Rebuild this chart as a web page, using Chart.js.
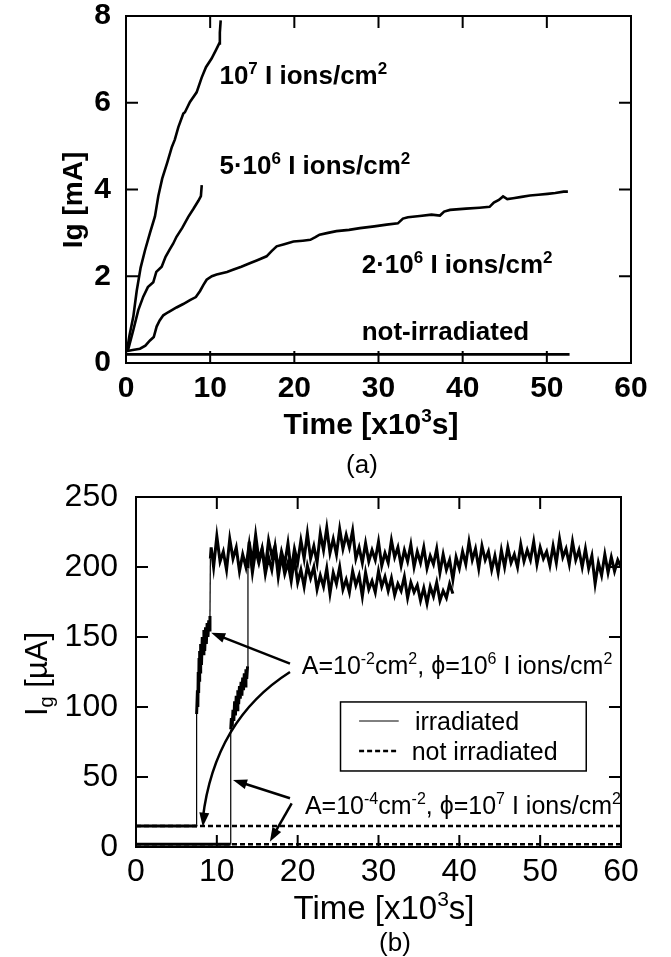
<!DOCTYPE html>
<html><head><meta charset="utf-8">
<script src="https://cdn.jsdelivr.net/npm/chart.js@4.4.0/dist/chart.umd.min.js"></script>
<style>
html,body{margin:0;padding:0;background:#fff;}
#wrap{position:relative;width:671px;height:957px;background:#fff;}
#ca{position:absolute;left:0;top:0;width:671px;height:480px;}
#cb{position:absolute;left:0;top:480px;width:671px;height:477px;}
</style></head><body>
<div id="wrap">
<canvas id="ca" width="671" height="480"></canvas>
<canvas id="cb" width="671" height="477"></canvas>
</div>
<script>
// ===================== DATA =====================
// ---- panel (a): gate current Ig [mA] vs time [x10^3 s] ----
const aTimeTicks = [0, 10, 20, 30, 40, 50, 60];
const aIgTicks = [0, 2, 4, 6, 8];

const a_t_1e7 = [0, 0.15, 0.4, 0.87, 1.27, 1.74, 2.26, 2.85, 3.44, 3.84, 4.3, 4.9, 5.45, 5.8, 6.22, 6.81, 7.0, 7.6, 8.39, 8.99, 9.5, 10.17, 10.7, 11.08, 11.15, 11.25];
const a_i_1e7 = [0.28, 0.32, 0.62, 1.07, 1.66, 2.2, 2.6, 3.0, 3.38, 3.85, 4.25, 4.62, 4.98, 5.15, 5.44, 5.75, 5.78, 6.02, 6.24, 6.58, 6.82, 7.02, 7.22, 7.37, 7.62, 7.9];

const a_t_5e6 = [0, 0.27, 0.87, 1.46, 2.05, 2.6, 3.24, 3.6, 4.24, 4.7, 5.2, 5.6, 6.0, 6.7, 7.4, 8.0, 8.6, 8.9, 9.0];
const a_i_5e6 = [0.28, 0.32, 0.76, 1.22, 1.53, 1.75, 1.86, 2.1, 2.22, 2.45, 2.62, 2.75, 2.91, 3.12, 3.37, 3.55, 3.74, 3.85, 4.1];

const a_t_2e6 = [0, 0.8, 1.66, 2.3, 2.85, 3.3, 3.64, 4.0, 4.43, 5.0, 6.0, 6.8, 7.6, 8.3, 8.8, 9.2, 9.58, 10.2, 10.77, 12.0, 12.7, 13.7, 14.7, 15.6, 16.7, 17.3, 17.9, 18.8, 19.9, 21.0, 21.9, 22.5, 23.0, 24.0, 25.0, 26.5, 27.8, 29.5, 30.96, 32.3, 32.9, 33.5, 34.9, 36.3, 37.3, 37.8, 38.5, 40.4, 42.0, 43.2, 43.7, 44.3, 44.8, 45.3, 46.0, 47.0, 48.0, 49.0, 50.1, 51.0, 52.0, 52.5];
const a_i_2e6 = [0.27, 0.3, 0.33, 0.4, 0.52, 0.6, 0.84, 0.98, 1.1, 1.17, 1.28, 1.36, 1.45, 1.52, 1.66, 1.8, 1.92, 2.0, 2.04, 2.1, 2.15, 2.22, 2.3, 2.37, 2.46, 2.58, 2.69, 2.74, 2.8, 2.82, 2.84, 2.9, 2.96, 3.0, 3.04, 3.07, 3.11, 3.15, 3.19, 3.22, 3.33, 3.36, 3.39, 3.42, 3.4, 3.49, 3.53, 3.56, 3.58, 3.6, 3.7, 3.76, 3.84, 3.78, 3.8, 3.83, 3.86, 3.88, 3.9, 3.92, 3.95, 3.95];

const a_t_notirr = [0, 52.7];
const a_i_notirr = [0.2, 0.2];

// ---- panel (b): gate current Ig [uA] vs time [x10^3 s] ----
const bTimeTicks = [0, 10, 20, 30, 40, 50, 60];
const bIgTicks = [0, 50, 100, 150, 200, 250];

// irradiated, jump near 7.4 (A=1e-2 cm2)
const b_t_irr1 = [0, 7.4, 7.45, 7.5, 7.6, 7.65, 7.7, 7.75, 7.8, 7.85, 7.9, 7.95, 8.0, 8.1, 8.2, 8.3, 8.4, 8.5, 8.6, 8.7, 8.8, 8.9, 9.0, 9.1, 9.15, 9.2,
  9.3, 9.6, 10.0, 10.4, 10.8, 11.2, 11.6, 12.0, 12.4, 12.8, 13.2, 13.6, 14.0, 14.4, 14.8, 15.2, 15.6, 16.0, 16.4, 16.8, 17.2, 17.6, 18.0, 18.4, 18.8, 19.2, 19.6,
  20.0, 20.4, 20.8, 21.2, 21.6, 22.0, 22.4, 22.8, 23.2, 23.6, 24.0, 24.4, 24.8, 25.2, 25.6, 26.0, 26.4, 26.8, 27.2, 27.6, 28.0, 28.4, 28.8, 29.2, 29.6,
  30.0, 30.4, 30.8, 31.2, 31.6, 32.0, 32.4, 32.8, 33.2, 33.6, 34.0, 34.4, 34.8, 35.2, 35.6, 36.0, 36.4, 36.8, 37.2, 37.6, 38.0, 38.4, 38.8, 39.2];
const b_i_irr1 = [15, 15, 16, 95, 112, 100, 125, 110, 135, 118, 140, 125, 145, 130, 150, 138, 155, 140, 157, 145, 160, 150, 162, 155, 165, 206,
  214, 200, 222, 204, 211, 198, 220, 206, 214, 197, 209, 200, 216, 196, 212, 203, 213, 195, 207, 198, 214, 193, 208, 195, 203, 190, 206,
  189, 198, 186, 201, 192, 200, 184, 194, 186, 199, 181, 196, 188, 200, 184, 191, 182, 197, 187, 194, 179, 196, 184, 190, 182,
  197, 186, 193, 183, 192, 180, 188, 183, 193, 178, 189, 182, 187, 176, 185, 174, 186, 179, 189, 176, 183, 178, 188, 181];

// irradiated, jump near 11.7 (A=1e-4 cm2)
const b_t_irr2 = [0, 11.7, 11.72, 11.8, 11.9, 12.0, 12.1, 12.2, 12.3, 12.4, 12.5, 12.6, 12.7, 12.8, 12.9, 13.0, 13.1, 13.2, 13.3, 13.4, 13.5, 13.6, 13.7, 13.8, 13.85,
  14.0, 14.4, 14.8, 15.2, 15.6, 16.0, 16.4, 16.8, 17.2, 17.6, 18.0, 18.4, 18.8, 19.2, 19.6, 20.0, 20.4, 20.8, 21.2, 21.6, 22.0, 22.4, 22.8, 23.2, 23.6,
  24.0, 24.4, 24.8, 25.2, 25.6, 26.0, 26.4, 26.8, 27.2, 27.6, 28.0, 28.4, 28.8, 29.2, 29.6, 30.0, 30.4, 30.8, 31.2, 31.6, 32.0, 32.4, 32.8, 33.2, 33.6,
  34.0, 34.4, 34.8, 35.2, 35.6, 36.0, 36.4, 36.8, 37.2, 37.6, 38.0, 38.4, 38.8, 39.2, 39.6, 40.0, 40.4, 40.8, 41.2, 41.6, 42.0, 42.4, 42.8, 43.2, 43.6,
  44.0, 44.4, 44.8, 45.2, 45.6, 46.0, 46.4, 46.8, 47.2, 47.6, 48.0, 48.4, 48.8, 49.2, 49.6, 50.0, 50.4, 50.8, 51.2, 51.6, 52.0, 52.4, 52.8, 53.2, 53.6,
  54.0, 54.4, 54.8, 55.2, 55.6, 56.0, 56.4, 56.8, 57.2, 57.6, 58.0, 58.4, 58.8, 59.2, 59.6, 60.0];
const b_i_irr2 = [2, 2, 84, 92, 86, 98, 90, 104, 94, 108, 98, 112, 102, 115, 106, 118, 108, 121, 112, 124, 115, 127, 120, 129, 199,
  218, 203, 223, 205, 213, 199, 219, 208, 215, 198, 211, 202, 217, 197, 213, 203, 219, 206, 224, 206, 215, 203, 224, 212, 228,
  210, 220, 209, 227, 213, 223, 214, 226, 206, 214, 203, 217, 204, 212, 205, 218, 201, 210, 203, 219, 207, 214, 201, 212, 204,
  216, 200, 211, 203, 214, 199, 208, 202, 213, 196, 209, 198, 205, 191, 207, 199, 211, 202, 218, 205, 213, 199, 215, 205, 211,
  198, 208, 196, 212, 200, 214, 203, 209, 200, 216, 204, 212, 205, 218, 202, 214, 206, 211, 201, 215, 203, 220, 207, 213, 202,
  218, 205, 212, 200, 213, 199, 208, 188, 203, 194, 209, 196, 207, 197, 205, 200];

// not irradiated reference levels
const b_t_notirr = [0, 60];
const b_i_notirr1 = [15, 15];
const b_i_notirr2 = [2, 2];

// ===================== HELPERS =====================
const FAM = "'Liberation Sans', Arial, Helvetica, sans-serif";
const xy = (t, v) => t.map((x, i) => ({ x: x, y: v[i] }));

function parseRich(s) {
  const segs = []; const re = /(\^|_)\{([^}]*)\}/g; let last = 0, m;
  while ((m = re.exec(s))) {
    if (m.index > last) segs.push({ t: s.slice(last, m.index), k: '' });
    segs.push({ t: m[2], k: m[1] === '^' ? 'sup' : 'sub' });
    last = re.lastIndex;
  }
  if (last < s.length) segs.push({ t: s.slice(last), k: '' });
  return segs;
}
function drawRich(ctx, s, x, y, size, weight, align) {
  const segs = parseRich(s);
  const fontOf = sg => `${weight} ${sg.k ? Math.round(size * 0.64) : size}px ${FAM}`;
  const widths = segs.map(sg => { ctx.font = fontOf(sg); return ctx.measureText(sg.t).width; });
  const total = widths.reduce((a, b) => a + b, 0);
  let cx = align === 'center' ? x - total / 2 : (align === 'right' ? x - total : x);
  ctx.textBaseline = 'alphabetic'; ctx.textAlign = 'left'; ctx.fillStyle = '#000';
  const base = y + size * 0.358;
  segs.forEach((sg, i) => {
    ctx.font = fontOf(sg);
    const dy = sg.k === 'sup' ? -size * 0.38 : (sg.k === 'sub' ? size * 0.2 : 0);
    ctx.fillText(sg.t, cx, base + dy);
    cx += widths[i];
  });
}
function drawRotated(ctx, s, x, y, size, weight) {
  ctx.save(); ctx.translate(x, y); ctx.rotate(-Math.PI / 2);
  drawRich(ctx, s, 0, 0, size, weight, 'center'); ctx.restore();
}
function frameAndTicks(chart, lw, len) {
  const { ctx, chartArea: a, scales } = chart;
  const x = scales.x, y = scales.y;
  ctx.save(); ctx.strokeStyle = '#000'; ctx.lineWidth = lw; ctx.setLineDash([]);
  ctx.strokeRect(a.left, a.top, a.right - a.left, a.bottom - a.top);
  ctx.beginPath();
  x.ticks.forEach(t => { const p = x.getPixelForValue(t.value); if (p <= a.left + 2 || p >= a.right - 2) return;
    ctx.moveTo(p, a.bottom); ctx.lineTo(p, a.bottom - len); ctx.moveTo(p, a.top); ctx.lineTo(p, a.top + len); });
  y.ticks.forEach(t => { const p = y.getPixelForValue(t.value); if (p <= a.top + 2 || p >= a.bottom - 2) return;
    ctx.moveTo(a.left, p); ctx.lineTo(a.left + len, p); ctx.moveTo(a.right, p); ctx.lineTo(a.right - len, p); });
  ctx.stroke(); ctx.restore();
}
function arrowHead(ctx, fx, fy, tx, ty, L, W) {
  const ang = Math.atan2(ty - fy, tx - fx);
  ctx.beginPath(); ctx.moveTo(tx, ty);
  ctx.lineTo(tx - L * Math.cos(ang) + W * Math.sin(ang), ty - L * Math.sin(ang) - W * Math.cos(ang));
  ctx.lineTo(tx - L * Math.cos(ang) - W * Math.sin(ang), ty - L * Math.sin(ang) + W * Math.cos(ang));
  ctx.closePath(); ctx.fill();
}
function xScale(ticksArr, font, pad, h) {
  return { type: 'linear', min: ticksArr[0], max: ticksArr[ticksArr.length - 1],
    afterBuildTicks: s => { s.ticks = ticksArr.map(v => ({ value: v })); },
    grid: { display: false, drawTicks: false }, border: { display: false },
    ticks: { color: '#000', font: font, padding: pad, maxRotation: 0, autoSkip: false },
    afterFit: s => { s.height = h; s.paddingLeft = 0; s.paddingRight = 0; } };
}
function yScale(ticksArr, font, pad, w) {
  return { type: 'linear', min: ticksArr[0], max: ticksArr[ticksArr.length - 1],
    afterBuildTicks: s => { s.ticks = ticksArr.map(v => ({ value: v })); },
    grid: { display: false, drawTicks: false }, border: { display: false },
    ticks: { color: '#000', font: font, padding: pad, autoSkip: false },
    afterFit: s => { s.width = w; s.paddingTop = 0; s.paddingBottom = 0; } };
}
const lineDs = (t, v, w, dash) => ({ data: xy(t, v), borderColor: '#000', borderWidth: w, pointRadius: 0,
  fill: false, tension: 0, borderDash: dash || [], borderJoinStyle: 'miter', borderCapStyle: 'butt' });
// thin strokes for the abrupt vertical jumps of the irradiated traces
const jumpThin = { borderWidth: c => {
  const dx = Math.abs(c.p1.parsed.x - c.p0.parsed.x), dy = Math.abs(c.p1.parsed.y - c.p0.parsed.y);
  return (dx < 0.1 && dy > 35) ? 1.2 : undefined; } };

// ===================== PANEL (a) =====================
const annoA = {
  id: 'annoA',
  afterDraw(chart) {
    const { ctx, scales: { x, y } } = chart;
    frameAndTicks(chart, 2, 12);
    const labels = [
      ['10^{7} I ions/cm^{2}', 11.1, 6.65],
      ['5·10^{6} I ions/cm^{2}', 11.1, 4.57],
      ['2·10^{6} I ions/cm^{2}', 28.0, 2.3],
      ['not-irradiated', 28.0, 0.74]
    ];
    labels.forEach(l => drawRich(ctx, l[0], x.getPixelForValue(l[1]), y.getPixelForValue(l[2]), 26, 'bold', 'left'));
    drawRich(ctx, 'Time [x10^{3}s]', 371, 423, 30, 'bold', 'center');
    drawRich(ctx, '(a)', 362, 464, 26, 'normal', 'center');
    drawRotated(ctx, 'Ig [mA]', 72, 200, 28, 'bold');
  }
};
new Chart(document.getElementById('ca'), {
  type: 'line',
  data: { datasets: [
    lineDs(a_t_1e7, a_i_1e7, 2.6),
    lineDs(a_t_5e6, a_i_5e6, 2.6),
    lineDs(a_t_2e6, a_i_2e6, 2.6),
    lineDs(a_t_notirr, a_i_notirr, 2.6)
  ] },
  options: {
    responsive: false, animation: false, events: [],
    layout: { padding: { left: 0, right: 40, top: 16, bottom: 0 } },
    plugins: { legend: { display: false }, tooltip: { enabled: false } },
    scales: {
      x: xScale(aTimeTicks, { family: FAM, size: 30, weight: 'bold', lineHeight: 1 }, 11, 117),
      y: yScale(aIgTicks, { family: FAM, size: 30, weight: 'bold', lineHeight: 1 }, 15, 126)
    }
  },
  plugins: [annoA]
});

// ===================== PANEL (b) =====================
const annoB = {
  id: 'annoB',
  afterDraw(chart) {
    const { ctx, scales: { x, y } } = chart;
    frameAndTicks(chart, 2, 12);
    const X = v => x.getPixelForValue(v), Y = v => y.getPixelForValue(v);
    drawRich(ctx, 'A=10^{-2}cm^{2}, ϕ=10^{6} I ions/cm^{2}', X(20.5), Y(130), 25, 'normal', 'left');
    drawRich(ctx, 'A=10^{-4}cm^{-2}, ϕ=10^{7} I ions/cm^{2}', X(20.9), Y(30), 25, 'normal', 'left');
    ctx.save(); ctx.strokeStyle = '#000'; ctx.fillStyle = '#000'; ctx.lineWidth = 2.5;
    const straight = [[19.05, 131, 9.3, 153], [19.05, 34.8, 12.0, 47.9], [19.26, 31.2, 16.56, 3.8]];
    straight.forEach(s => {
      const fx = X(s[0]), fy = Y(s[1]), tx = X(s[2]), ty = Y(s[3]);
      const ang = Math.atan2(ty - fy, tx - fx);
      ctx.beginPath(); ctx.moveTo(fx, fy); ctx.lineTo(tx - 10 * Math.cos(ang), ty - 10 * Math.sin(ang)); ctx.stroke();
      arrowHead(ctx, fx, fy, tx, ty, 14, 5);
    });
    const p0 = [X(19.05), Y(125)], p1 = [X(9.71), Y(90.7)], p2 = [X(8.26), Y(14.5)];
    ctx.beginPath(); ctx.moveTo(p0[0], p0[1]); ctx.quadraticCurveTo(p1[0], p1[1], p2[0], p2[1] - 8); ctx.stroke();
    arrowHead(ctx, p1[0], p1[1], p2[0], p2[1], 14, 5);
    ctx.restore();
    ctx.save(); ctx.strokeStyle = '#000'; ctx.lineWidth = 1.5;
    const lx0 = X(25.3), lx1 = X(55.7), ly0 = Y(103.6), ly1 = Y(54.3);
    ctx.strokeRect(lx0, ly0, lx1 - lx0, ly1 - ly0);
    ctx.lineWidth = 1; ctx.beginPath(); ctx.moveTo(X(27.6), Y(90)); ctx.lineTo(X(32.5), Y(90)); ctx.stroke();
    ctx.lineWidth = 2.5; ctx.setLineDash([5, 3]); ctx.beginPath(); ctx.moveTo(X(27.6), Y(68.6)); ctx.lineTo(X(32.5), Y(68.6)); ctx.stroke();
    ctx.restore();
    drawRich(ctx, 'irradiated', X(34.5), Y(90), 25, 'normal', 'left');
    drawRich(ctx, 'not irradiated', X(34.1), Y(68.6), 25, 'normal', 'left');
    drawRich(ctx, 'Time [x10^{3}s]', 384, 427, 33, 'normal', 'center');
    drawRich(ctx, '(b)', 395, 462, 26, 'normal', 'center');
    drawRotated(ctx, 'I_{g} [µA]', 36, 194, 31, 'normal');
  }
};
new Chart(document.getElementById('cb'), {
  type: 'line',
  data: { datasets: [
    lineDs(b_t_notirr, b_i_notirr1, 2.5, [5, 3]),
    lineDs(b_t_notirr, b_i_notirr2, 2.5, [5, 3]),
    Object.assign(lineDs(b_t_irr1, b_i_irr1, 3), { segment: jumpThin }),
    Object.assign(lineDs(b_t_irr2, b_i_irr2, 3), { segment: jumpThin })
  ] },
  options: {
    responsive: false, animation: false, events: [],
    layout: { padding: { left: 0, right: 50, top: 17, bottom: 0 } },
    plugins: { legend: { display: false }, tooltip: { enabled: false } },
    scales: {
      x: xScale(bTimeTicks, { family: FAM, size: 32, weight: 'normal', lineHeight: 1 }, 9, 110),
      y: yScale(bIgTicks, { family: FAM, size: 32, weight: 'normal', lineHeight: 1 }, 18, 136)
    }
  },
  plugins: [annoB]
});
</script>
</body></html>
